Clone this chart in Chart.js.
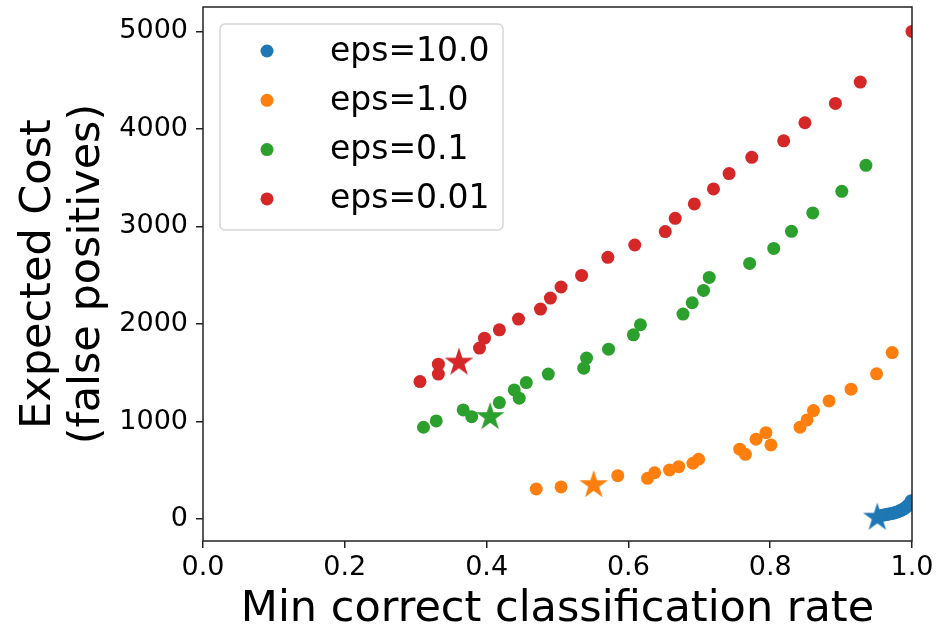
<!DOCTYPE html>
<html>
<head>
<meta charset="utf-8">
<script src="https://cdn.jsdelivr.net/npm/chart.js@4"></script>
<style>
  html, body { margin: 0; padding: 0; background: #fff; }
  #wrap { width: 949px; height: 628px; }
</style>
</head>
<body>
<div id="wrap"><canvas id="cost-chart" width="949" height="628"></canvas></div>
<script>
// Expected cost vs min correct classification rate, one series per eps

const seriesLabels = ['eps=10.0', 'eps=1.0', 'eps=0.1', 'eps=0.01'];
const seriesColors = ['#1f77b4', '#ff7f0e', '#2ca02c', '#d62728'];

// eps=10.0 (dense cluster near x=1)
const blueX = [0.958, 0.962, 0.965, 0.968, 0.971, 0.974, 0.977, 0.980, 0.983, 0.985, 0.988, 0.990, 0.992, 0.994, 0.996, 0.998, 0.999, 1.0];
const blueY = [38, 44, 48, 52, 56, 61, 68, 75, 84, 92, 102, 112, 124, 138, 152, 170, 188, 150];

// eps=1.0
const orangeX = [0.470, 0.505, 0.585, 0.627, 0.637, 0.658, 0.671, 0.691, 0.699, 0.757, 0.765, 0.780, 0.794, 0.801, 0.842, 0.852, 0.861, 0.883, 0.914, 0.950, 0.972];
const orangeY = [308, 329, 445, 418, 475, 503, 537, 572, 613, 716, 664, 818, 886, 760, 941, 1016, 1112, 1211, 1332, 1489, 1707];

// eps=0.1
const greenX = [0.311, 0.329, 0.367, 0.379, 0.418, 0.439, 0.446, 0.456, 0.487, 0.537, 0.541, 0.572, 0.607, 0.617, 0.677, 0.690, 0.706, 0.714, 0.771, 0.805, 0.830, 0.860, 0.901, 0.935];
const greenY = [941, 1006, 1119, 1050, 1194, 1324, 1239, 1399, 1486, 1547, 1650, 1742, 1889, 1992, 2102, 2218, 2344, 2477, 2621, 2775, 2950, 3139, 3360, 3627];

// eps=0.01
const redX = [0.306, 0.332, 0.332, 0.390, 0.397, 0.418, 0.445, 0.476, 0.490, 0.505, 0.534, 0.571, 0.609, 0.652, 0.666, 0.693, 0.720, 0.742, 0.774, 0.819, 0.849, 0.892, 0.927, 1.0];
const redY = [1410, 1486, 1588, 1753, 1855, 1940, 2050, 2153, 2266, 2379, 2498, 2683, 2810, 2947, 3083, 3231, 3385, 3542, 3709, 3878, 4063, 4261, 4480, 5000];

// starred points, one per series (same order as labels)
const starX = [0.951, 0.551, 0.405, 0.361];
const starY = [25, 359, 1057, 1615];

const xTicks = [0.0, 0.2, 0.4, 0.6, 0.8, 1.0];
const yTicks = [0, 1000, 2000, 3000, 4000, 5000];

function toPoints(xs, ys) {
    return xs.map((x, i) => ({x: x, y: ys[i]}));
}

// filled five point star like matplotlib's '*' marker
function starImage(color) {
    const c = document.createElement('canvas');
    c.width = 32;
    c.height = 32;
    const g = c.getContext('2d');
    const R = 15, r = R * 0.382;
    g.beginPath();
    for (let i = 0; i < 10; i++) {
        const rad = i % 2 === 0 ? R : r;
        const a = -Math.PI / 2 + i * Math.PI / 5;
        const px = 16 + rad * Math.cos(a);
        const py = 17 + rad * Math.sin(a);
        if (i === 0) g.moveTo(px, py); else g.lineTo(px, py);
    }
    g.closePath();
    g.fillStyle = color;
    g.fill();
    return c;
}

const seriesX = [blueX, orangeX, greenX, redX];
const seriesY = [blueY, orangeY, greenY, redY];

const datasets = [];
seriesLabels.forEach((label, i) => {
    datasets.push({
        label: label,
        data: toPoints(seriesX[i], seriesY[i]),
        backgroundColor: seriesColors[i],
        borderWidth: 0,
        pointRadius: 6.5,
        pointHoverRadius: 6.5,
        clip: 0,                // cut off at the spines like matplotlib
        order: 10 - 2 * i
    });
    datasets.push({
        label: label + ' best',
        data: [{x: starX[i], y: starY[i]}],
        pointStyle: starImage(seriesColors[i]),
        pointRadius: 15,
        clip: 0,
        order: 9 - 2 * i
    });
});

// axes frame (all four spines)
const frame = {
    id: 'frame',
    afterDatasetsDraw(chart) {
        const a = chart.chartArea;
        const ctx = chart.ctx;
        ctx.save();
        ctx.strokeStyle = '#222';
        ctx.lineWidth = 1.5;
        ctx.strokeRect(a.left, a.top, a.right - a.left, a.bottom - a.top);
        ctx.restore();
    }
};

// legend drawn inside the plot, upper left
const innerLegend = {
    id: 'innerLegend',
    afterDraw(chart) {
        const a = chart.chartArea;
        const ctx = chart.ctx;
        const left = a.left + 17, top = a.top + 17;
        const w = 283, h = 206;
        ctx.save();
        ctx.beginPath();
        ctx.roundRect(left, top, w, h, 5);
        ctx.fillStyle = 'rgba(255,255,255,0.8)';
        ctx.fill();
        ctx.strokeStyle = '#d6d6d6';
        ctx.lineWidth = 1.5;
        ctx.stroke();
        ctx.font = '33px "DejaVu Sans"';
        ctx.textBaseline = 'middle';
        ctx.textAlign = 'left';
        seriesLabels.forEach((label, i) => {
            const cy = top + 27 + i * 49.3;
            ctx.beginPath();
            ctx.arc(left + 47, cy, 6.5, 0, Math.PI * 2);
            ctx.fillStyle = seriesColors[i];
            ctx.fill();
            ctx.fillStyle = '#000';
            ctx.fillText(label, left + 110, cy + 1);
        });
        ctx.restore();
    }
};

const ctx = document.getElementById('cost-chart');
const myChart = new Chart(ctx, {
    type: 'scatter',
    data: {datasets: datasets},
    plugins: [frame, innerLegend],
    options: {
        responsive: false,
        animation: false,
        devicePixelRatio: 1,
        layout: {
            autoPadding: false,     // stars would otherwise push the plot area down
            padding: {top: 7, right: 37, bottom: 0, left: 0}
        },
        scales: {
            x: {
                type: 'linear',
                min: 0,
                max: 1,
                afterBuildTicks: axis => { axis.ticks = xTicks.map(v => ({value: v})); },
                afterFit: axis => {
                    axis.height = 87;
                    axis.paddingLeft = 0;
                    axis.paddingRight = 0;
                },
                border: {display: false},
                grid: {
                    drawOnChartArea: false,
                    drawTicks: true,
                    tickLength: 7,
                    color: '#222',
                    lineWidth: 1.5
                },
                ticks: {
                    color: '#000',
                    padding: 4,
                    maxRotation: 0,
                    font: {family: 'DejaVu Sans', size: 27},
                    callback: v => v.toFixed(1)
                },
                title: {
                    display: true,
                    text: 'Min correct classification rate',
                    color: '#000',
                    font: {family: 'DejaVu Sans', size: 43, lineHeight: 0.8},
                    padding: {top: 0, bottom: 1}
                }
            },
            y: {
                type: 'linear',
                min: -225,
                max: 5250,
                afterBuildTicks: axis => { axis.ticks = yTicks.map(v => ({value: v})); },
                afterFit: axis => {
                    axis.width = 203;
                    axis.paddingTop = 0;
                    axis.paddingBottom = 0;
                },
                border: {display: false},
                grid: {
                    drawOnChartArea: false,
                    drawTicks: true,
                    tickLength: 7,
                    color: '#222',
                    lineWidth: 1.5
                },
                ticks: {
                    color: '#000',
                    padding: 8,
                    font: {family: 'DejaVu Sans', size: 27},
                    callback: v => String(v)
                },
                title: {
                    display: true,
                    text: ['Expected Cost', '(false positives)'],
                    color: '#000',
                    font: {family: 'DejaVu Sans', size: 43, lineHeight: 1.14},
                    padding: {top: 14, bottom: 0}
                }
            }
        },
        plugins: {
            legend: {display: false},
            tooltip: {enabled: false}
        }
    }
});
</script>
</body>
</html>
